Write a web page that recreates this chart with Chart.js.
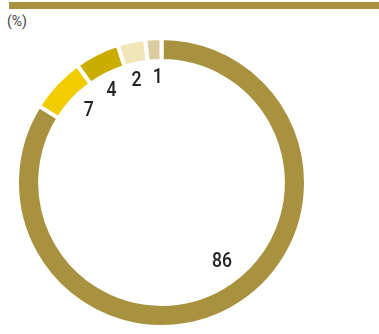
<!DOCTYPE html>
<html>
<head>
<meta charset="utf-8">
<script src="https://cdn.jsdelivr.net/npm/chart.js@4"></script>
<style>
  body { margin: 0; width: 379px; height: 334px; background: #fff; position: relative; overflow: hidden; }
  #topbar { position: absolute; left: 9px; top: 2px; width: 370px; height: 7px; background: #a8923f; }
  #unit { position: absolute; left: 7px; top: 13px; font-family: Roboto, sans-serif; font-size: 14px; line-height: 16px; color: #444; }
  #wrap { position: absolute; left: 15px; top: 36px; width: 293px; height: 293px; }
</style>
</head>
<body>
<div id="topbar"></div>
<div id="unit">(%)</div>
<div id="wrap"><canvas id="chart" width="293" height="293"></canvas></div>
<script>
// printed shares in percent, clockwise from the top
const categories = ['A', 'B', 'C', 'D', 'E']
const shares = [86, 7, 4, 2, 1]
// slice sizes as measured on the ring (the drawing is not exactly to scale)
const arcShares = [83.9, 6.2, 5.0, 3.1, 1.8]
const colours = ['#a8923f', '#f0cc00', '#cbad00', '#f2e6b8', '#dccca3']
// label placement: angle nudge (deg) and distance in from the ring
const labelNudge = [-9, 2, -1.5, -1.5, 1.2]
const labelInset = [25, 20, 17.5, 17, 17]

//draws the value labels just inside the ring
const valueLabels = {
  id: 'valueLabels',
  afterDatasetsDraw(chart) {
    const ctx = chart.ctx
    const arcs = chart.getDatasetMeta(0).data
    ctx.save()
    ctx.font = '500 20px Roboto, sans-serif'
    ctx.fillStyle = '#222'
    ctx.textAlign = 'center'
    ctx.textBaseline = 'middle'
    arcs.forEach((arc, i) => {
      const mid = (arc.startAngle + arc.endAngle) / 2 + labelNudge[i] * Math.PI / 180
      const r = arc.innerRadius + 2 - labelInset[i]
      const x = arc.x + Math.cos(mid) * r
      const y = arc.y + Math.sin(mid) * r
      ctx.save()
      ctx.translate(x, y + 2)
      ctx.scale(0.88, 1)
      ctx.fillText(String(shares[i]), 0, 0)
      ctx.restore()
    })
    ctx.restore()
  }
}

new Chart(document.getElementById('chart'), {
  type: 'doughnut',
  data: {
    labels: categories,
    datasets: [{
      data: arcShares,
      backgroundColor: colours,
      borderColor: '#fff',
      borderWidth: 4,
      hoverOffset: 0
    }]
  },
  options: {
    responsive: false,
    animation: false,
    cutout: '84%',
    layout: { padding: 0 },
    plugins: {
      legend: { display: false },
      tooltip: { enabled: false }
    }
  },
  plugins: [valueLabels]
})
</script>
</body>
</html>
